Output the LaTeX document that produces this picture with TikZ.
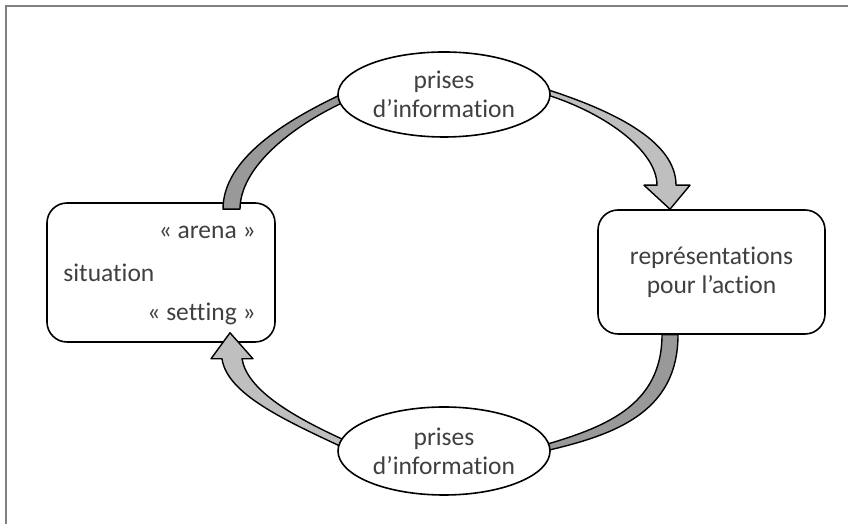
\documentclass[tikz,border=0pt]{standalone}
\usepackage{fontspec}
\setmainfont{Carlito}[Ligatures=NoCommon]
\usetikzlibrary{shapes.geometric,calc}
\pgfdeclarelayer{front}
\pgfsetlayers{main,front}

\begin{document}
\begin{tikzpicture}[x=1pt,y=1pt,
    every node/.style={font=\fontsize{25.5}{29}\selectfont,text=black!75},
    box/.style={draw,line width=1.6pt,rounded corners=20pt,fill=white},
    bubble/.style={ellipse,draw,line width=1.6pt,fill=white,minimum width=212pt,align=center,inner sep=0pt},
    band/.style={draw,line width=1.4pt,line join=round}]
    \useasboundingbox (0,0) rectangle (848,524);
    \draw[black!50,line width=2.2pt] (848,518) -- (6,518) -- (6,0);

    \node[box,minimum width=228pt,minimum height=139pt] (S) at (161,251.5) {};
    \node[anchor=east,inner sep=0pt] (arena) at ($(S.east)+(-20,40.5)$) {«~arena~»};
    \node[anchor=west,inner sep=0pt] (sit) at ($(S.west)+(17,0)$) {situation};
    \node[anchor=east,inner sep=0pt] (setting) at ($(S.east)+(-20,-41.5)$) {«~setting~»};
    \node[box,minimum width=227pt,minimum height=124pt,align=center] (R) at (711.5,252) {représentations\\pour l’action};
    \begin{pgfonlayer}{front}
    \node[bubble,minimum height=85pt] (T) at (444,429.5) {prises\\d’information};
    \node[bubble,minimum height=88pt] (B) at (444,73) {prises\\d’information};
    \end{pgfonlayer}

    % situation -> prises d'information (haut)
    \draw[band,fill=black!40] ($(S.north)+(62,-7)$) .. controls +(0,50) and +(-60,-28) .. ($(T.west)+(7,1.5)$)
    -- ($(T.west)+(7,-7.5)$) .. controls +(-52,-24) and +(0,42) .. ($(S.north)+(79,-7)$) -- cycle;
    % prises d'information (haut) -> representations
    \draw[band,fill=black!25] ($(T.east)+(-10,7)$) .. controls +(70,-22) and +(0,45) .. ($(R.north)+(-35.5,24)$)
    -- ++(14,0) -- ($(R.north)+(-41.5,0)$) -- ($(R.north)+(-67.5,24)$) -- ++(13,0)
    .. controls +(0,35) and +(62,-18) .. ($(T.east)+(-10,1.5)$) -- cycle;
    % representations -> prises d'information (bas)
    \draw[band,fill=black!40] ($(R.south)+(-49.5,0)$) -- ($(R.south)+(-33.5,0)$)
    .. controls +(0,-80) and +(70,16) .. ($(B.east)+(-10,-1)$)
    -- ($(B.east)+(-10,5)$) .. controls +(62,18) and +(0,-72) .. ($(R.south)+(-49.5,0)$) -- cycle;
    % prises d'information (bas) -> situation
    \draw[band,fill=black!25] ($(B.west)+(7,3)$) .. controls +(-60,28) and +(5,-35) .. ($(S.south)+(61,-16)$)
    -- ++(-11,0) -- ($(S.south)+(69,10)$) -- ($(S.south)+(92,-16)$) -- ++(-11,0)
    .. controls +(5,-30) and +(-55,25) .. ($(B.west)+(7,11)$) -- cycle;
\end{tikzpicture}
\end{document}
